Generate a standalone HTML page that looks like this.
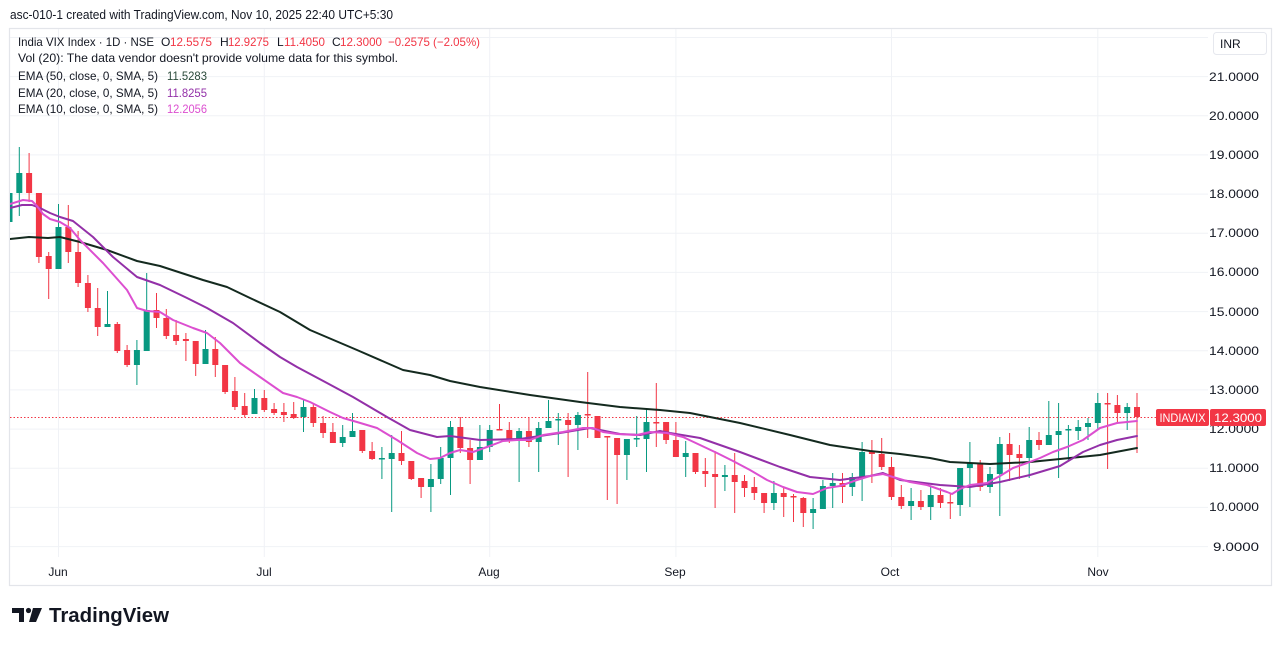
<!DOCTYPE html>
<html><head><meta charset="utf-8"><style>
html,body{margin:0;padding:0;background:#fff;}
svg{display:block;}
text{font-family:"Liberation Sans",Arial,sans-serif;}
</style></head><body>
<svg width="1281" height="646" viewBox="0 0 1281 646" xmlns="http://www.w3.org/2000/svg">
<rect x="0" y="0" width="1281" height="646" fill="#fff"/>
<text x="10" y="19" font-size="13" fill="#131722" textLength="383" lengthAdjust="spacingAndGlyphs">asc-010-1 created with TradingView.com, Nov 10, 2025 22:40 UTC+5:30</text>
<rect x="9.5" y="28.5" width="1262" height="557" fill="none" stroke="#e3e5ea" stroke-width="1.2"/>
<defs><clipPath id="pc"><rect x="10" y="29" width="1198" height="528"/></clipPath></defs>
<!-- grid -->
<g stroke="#f0f2f6" stroke-width="1">
<path d="M10 37.5H1208M10 76.6H1208M10 115.8H1208M10 154.9H1208M10 194.1H1208M10 233.3H1208M10 272.4H1208M10 311.6H1208M10 350.8H1208M10 389.9H1208M10 429.1H1208M10 468.3H1208M10 507.4H1208M10 546.6H1208"/>
<path d="M58.5 29V557M264.3 29V557M489.7 29V557M675.9 29V557M891.5 29V557M1097.8 29V557"/>
</g>
<!-- price line -->
<path d="M10 417.5H1156" stroke="#f23645" stroke-width="1" stroke-dasharray="1.5 2"/>
<g clip-path="url(#pc)">
<path stroke="#089981" stroke-width="1" fill="none" d="M9.5 190V225 M19.3 147V216 M58.5 204V269 M107.5 291V327 M136.9 340V385 M146.7 273V351 M205.5 330V364 M254.5 389V414 M303.5 400V432 M342.7 425V447 M352.5 413V437 M381.9 447V479 M391.7 435V512 M430.9 464V512 M440.7 447V484 M450.5 421V495 M479.9 425V460 M489.7 425V452 M519.1 428V482 M538.7 422V472 M548.5 400V428 M558.3 413V445 M577.9 412V450 M626.9 439V480 M636.7 416V447 M646.5 408V472 M685.7 441V477 M724.9 465V491 M773.9 481V510 M813.1 498V529 M822.9 480V509 M832.7 473V508 M852.3 473V496 M862.1 442V501 M911.1 488V520 M930.7 487V520 M960.1 468V516 M969.9 442V507 M990 467V493 M999.8 437V516 M1029.2 427V478 M1048.8 401V445 M1058.6 403V478 M1068.4 425V460 M1078.2 420V440 M1088 418V440 M1097.8 393V430 M1127.2 403V430"/>
<path stroke="#f23645" stroke-width="1" fill="none" d="M29.1 153V202 M38.9 193V263 M48.7 252V299 M68.3 205V263 M78.1 231V287 M87.9 275V312 M97.7 288V336 M117.3 322V353 M127.1 345V367 M156.5 293V328 M166.3 309V339 M176.1 320V345 M185.9 333V361 M195.7 341V376 M215.3 337V377 M225.1 365V394 M234.9 377V410 M244.7 393V417 M264.3 390V412 M274.1 403V415 M283.9 403V422 M293.7 402V419 M313.3 403V427 M323.1 416V438 M332.9 423V443 M362.3 430V453 M372.1 442V460 M401.5 431V465 M411.3 461V480 M421.1 478V498 M460.3 417V453 M470.1 440V484 M499.5 404V430 M509.3 422V443 M528.9 417V447 M568.1 413V477 M587.7 372V438 M597.5 416V438 M607.3 436V500 M617.1 438V504 M656.3 383V447 M666.1 422V444 M675.9 422V457 M695.5 453V474 M705.3 458V487 M715.1 451V508 M734.7 453V513 M744.5 475V497 M754.3 477V500 M764.1 493V513 M783.7 488V517 M793.5 494V522 M803.3 497V527 M842.5 473V503 M871.9 440V483 M881.7 438V470 M891.5 457V500 M901.3 485V509 M920.9 490V510 M940.5 488V508 M950.3 493V519 M980.2 460V491 M1009.6 433V481 M1019.4 445V479 M1039 432V450 M1107.6 393V469 M1117.4 395V423 M1137 393V453"/>
<g fill="#089981">
<rect x="6.5" y="193" width="6" height="29"/><rect x="16.3" y="173" width="6" height="20"/><rect x="55.5" y="227" width="6" height="42"/><rect x="104.5" y="324" width="6" height="3"/><rect x="133.9" y="350" width="6" height="15"/><rect x="143.7" y="310" width="6" height="41"/><rect x="202.5" y="349" width="6" height="15"/><rect x="251.5" y="398" width="6" height="16"/><rect x="300.5" y="407" width="6" height="10"/><rect x="339.7" y="437" width="6" height="6"/><rect x="349.5" y="431" width="6" height="6"/><rect x="378.9" y="458" width="6" height="1.5"/><rect x="388.7" y="453" width="6" height="6"/><rect x="427.9" y="479" width="6" height="8"/><rect x="437.7" y="458" width="6" height="21"/><rect x="447.5" y="427" width="6" height="31"/><rect x="476.9" y="447" width="6" height="13"/><rect x="486.7" y="430" width="6" height="17"/><rect x="516.1" y="431" width="6" height="10"/><rect x="535.7" y="428" width="6" height="14"/><rect x="545.5" y="421" width="6" height="7"/><rect x="555.3" y="419" width="6" height="1.5"/><rect x="574.9" y="415" width="6" height="10"/><rect x="623.9" y="439" width="6" height="16"/><rect x="633.7" y="438" width="6" height="1.5"/><rect x="643.5" y="422" width="6" height="17"/><rect x="682.7" y="453" width="6" height="4"/><rect x="721.9" y="475" width="6" height="2"/><rect x="770.9" y="493" width="6" height="10"/><rect x="810.1" y="509" width="6" height="4"/><rect x="819.9" y="486" width="6" height="23"/><rect x="829.7" y="483" width="6" height="3"/><rect x="849.3" y="477" width="6" height="10"/><rect x="859.1" y="452" width="6" height="25"/><rect x="908.1" y="501" width="6" height="5"/><rect x="927.7" y="495" width="6" height="12"/><rect x="957.1" y="468" width="6" height="37"/><rect x="966.9" y="463" width="6" height="5"/><rect x="987" y="474" width="6" height="13"/><rect x="996.8" y="444" width="6" height="30"/><rect x="1026.2" y="440" width="6" height="18"/><rect x="1045.8" y="435" width="6" height="10"/><rect x="1055.6" y="431" width="6" height="4"/><rect x="1065.4" y="429" width="6" height="1.5"/><rect x="1075.2" y="427" width="6" height="4"/><rect x="1085" y="423" width="6" height="4"/><rect x="1094.8" y="403" width="6" height="20"/><rect x="1124.2" y="407" width="6" height="6"/>
</g>
<g fill="#f23645">
<rect x="26.1" y="173" width="6" height="20"/><rect x="35.9" y="193" width="6" height="64"/><rect x="45.7" y="256" width="6" height="13"/><rect x="65.3" y="227" width="6" height="25"/><rect x="75.1" y="252" width="6" height="31"/><rect x="84.9" y="283" width="6" height="25"/><rect x="94.7" y="308" width="6" height="19"/><rect x="114.3" y="324" width="6" height="27"/><rect x="124.1" y="350" width="6" height="15"/><rect x="153.5" y="310" width="6" height="8"/><rect x="163.3" y="318" width="6" height="18"/><rect x="173.1" y="335" width="6" height="6"/><rect x="182.9" y="339" width="6" height="2"/><rect x="192.7" y="341" width="6" height="23"/><rect x="212.3" y="349" width="6" height="16"/><rect x="222.1" y="365" width="6" height="27"/><rect x="231.9" y="391" width="6" height="16"/><rect x="241.7" y="406" width="6" height="9"/><rect x="261.3" y="398" width="6" height="12"/><rect x="271.1" y="409" width="6" height="4"/><rect x="280.9" y="412" width="6" height="3"/><rect x="290.7" y="414" width="6" height="4"/><rect x="310.3" y="407" width="6" height="16"/><rect x="320.1" y="423" width="6" height="10"/><rect x="329.9" y="432" width="6" height="11"/><rect x="359.3" y="430" width="6" height="21"/><rect x="369.1" y="451" width="6" height="8"/><rect x="398.5" y="453" width="6" height="8"/><rect x="408.3" y="461" width="6" height="18"/><rect x="418.1" y="478" width="6" height="9"/><rect x="457.3" y="427" width="6" height="21"/><rect x="467.1" y="448" width="6" height="12"/><rect x="496.5" y="429" width="6" height="1.5"/><rect x="506.3" y="430" width="6" height="11"/><rect x="525.9" y="431" width="6" height="11"/><rect x="565.1" y="420" width="6" height="5"/><rect x="584.7" y="414" width="6" height="1.5"/><rect x="594.5" y="416" width="6" height="22"/><rect x="604.3" y="436" width="6" height="1.5"/><rect x="614.1" y="438" width="6" height="17"/><rect x="653.3" y="422" width="6" height="1.5"/><rect x="663.1" y="422" width="6" height="18"/><rect x="672.9" y="440" width="6" height="17"/><rect x="692.5" y="453" width="6" height="19"/><rect x="702.3" y="471" width="6" height="3"/><rect x="712.1" y="474" width="6" height="3"/><rect x="731.7" y="475" width="6" height="7"/><rect x="741.5" y="481" width="6" height="7"/><rect x="751.3" y="487" width="6" height="6"/><rect x="761.1" y="493" width="6" height="10"/><rect x="780.7" y="493" width="6" height="4"/><rect x="790.5" y="496" width="6" height="1.5"/><rect x="800.3" y="498" width="6" height="15"/><rect x="839.5" y="483" width="6" height="4"/><rect x="868.9" y="452" width="6" height="2"/><rect x="878.7" y="454" width="6" height="13"/><rect x="888.5" y="467" width="6" height="30"/><rect x="898.3" y="497" width="6" height="9"/><rect x="917.9" y="501" width="6" height="6"/><rect x="937.5" y="495" width="6" height="8"/><rect x="947.3" y="502" width="6" height="1.5"/><rect x="977.2" y="463" width="6" height="24"/><rect x="1006.6" y="444" width="6" height="11"/><rect x="1016.4" y="454" width="6" height="4"/><rect x="1036" y="440" width="6" height="5"/><rect x="1104.6" y="403" width="6" height="1.5"/><rect x="1114.4" y="405" width="6" height="8"/><rect x="1134" y="407" width="6" height="10"/>
</g>
<!-- EMAs -->
<g fill="none" stroke-width="2" stroke-linejoin="round" stroke-linecap="round">
<path stroke="#142a1f" d="M10 239 L29 237 L48 238 L60 237 L80 242 L107 250 L137 261 L160 266 L203 280 L227 287 L250 298 L280 312 L310 330 L357 350 L403 370 L430 375 L450 381 L480 387 L530 395 L580 402 L620 407 L660 410 L690 413 L740 423 L790 435 L830 445 L870 451 L900 454 L930 458 L950 462 L990 464 L1030 462 L1060 459 L1100 455 L1137 448"/>
<path stroke="#9330a8" d="M10 208 L22 205 L32 205 L40 208 L50 213 L60 217 L73 221 L93 237 L113 257 L137 277 L160 285 L187 298 L207 308 L233 323 L260 343 L280 357 L297 367 L327 383 L353 397 L387 417 L410 430 L437 437 L450 436 L480 440 L520 439 L560 433 L590 428 L600 430 L620 434 L640 435 L660 431 L670 433 L700 438 L740 452 L780 467 L810 477 L840 480 L870 476 L883 473 L900 480 L940 485 L970 487 L1000 482 L1030 475 L1060 466 L1083 452 L1100 445 L1117 440 L1137 436"/>
<path stroke="#dc4fd0" d="M10 204 L23 200 L32 201 L37 206 L43 214 L50 219 L60 222 L70 228 L80 240 L103 263 L127 290 L137 308 L147 311 L160 312 L173 320 L193 328 L207 333 L220 343 L240 363 L260 377 L283 393 L297 397 L310 402 L330 412 L343 418 L357 422 L377 428 L397 440 L417 453 L430 459 L440 458 L450 453 L460 450 L473 452 L487 447 L503 441 L517 440 L530 440 L543 435 L563 432 L583 428 L593 428 L603 432 L617 434 L637 435 L650 432 L667 433 L683 437 L700 445 L717 453 L733 461 L750 470 L767 480 L783 487 L797 492 L813 494 L827 488 L840 486 L857 480 L870 476 L883 474 L893 477 L910 482 L927 485 L947 492 L952 494 L960 489 L970 485 L987 483 L1000 476 L1013 468 L1027 463 L1040 458 L1053 452 L1067 447 L1083 440 L1100 428 L1117 423 L1137 421"/>
</g>
</g>
<!-- legend -->
<g font-size="12" fill="#131722">
<text x="18" y="46" textLength="136" lengthAdjust="spacingAndGlyphs">India VIX Index · 1D · NSE</text>
<text x="161" y="46">O</text><text x="170" y="46" fill="#f23645" textLength="42" lengthAdjust="spacingAndGlyphs">12.5575</text>
<text x="220" y="46">H</text><text x="228" y="46" fill="#f23645" textLength="41" lengthAdjust="spacingAndGlyphs">12.9275</text>
<text x="277" y="46">L</text><text x="284" y="46" fill="#f23645" textLength="41" lengthAdjust="spacingAndGlyphs">11.4050</text>
<text x="332" y="46">C</text><text x="340" y="46" fill="#f23645" textLength="42" lengthAdjust="spacingAndGlyphs">12.3000</text>
<text x="388" y="46" fill="#f23645" textLength="92" lengthAdjust="spacingAndGlyphs">−0.2575 (−2.05%)</text>
<text x="18" y="62" textLength="380" lengthAdjust="spacingAndGlyphs">Vol (20): The data vendor doesn't provide volume data for this symbol.</text>
<text x="18" y="80" textLength="140" lengthAdjust="spacingAndGlyphs">EMA (50, close, 0, SMA, 5)</text><text x="167" y="80" fill="#2a4a3a" textLength="40" lengthAdjust="spacingAndGlyphs">11.5283</text>
<text x="18" y="97" textLength="140" lengthAdjust="spacingAndGlyphs">EMA (20, close, 0, SMA, 5)</text><text x="167" y="97" fill="#9330a8" textLength="40" lengthAdjust="spacingAndGlyphs">11.8255</text>
<text x="18" y="113" textLength="140" lengthAdjust="spacingAndGlyphs">EMA (10, close, 0, SMA, 5)</text><text x="167" y="113" fill="#dc4fd0" textLength="40" lengthAdjust="spacingAndGlyphs">12.2056</text>
</g>
<!-- price axis -->
<rect x="1213.5" y="32.5" width="53" height="22" rx="3" fill="#fff" stroke="#e6e8ee"/>
<text x="1220" y="48" font-size="12" fill="#131722">INR</text>
<g font-size="12" fill="#131722">
<text x="1209" y="81" textLength="50" lengthAdjust="spacingAndGlyphs">21.0000</text>
<text x="1209" y="120" textLength="50" lengthAdjust="spacingAndGlyphs">20.0000</text>
<text x="1209" y="159" textLength="50" lengthAdjust="spacingAndGlyphs">19.0000</text>
<text x="1209" y="198" textLength="50" lengthAdjust="spacingAndGlyphs">18.0000</text>
<text x="1209" y="237" textLength="50" lengthAdjust="spacingAndGlyphs">17.0000</text>
<text x="1209" y="276" textLength="50" lengthAdjust="spacingAndGlyphs">16.0000</text>
<text x="1209" y="316" textLength="50" lengthAdjust="spacingAndGlyphs">15.0000</text>
<text x="1209" y="355" textLength="50" lengthAdjust="spacingAndGlyphs">14.0000</text>
<text x="1209" y="394" textLength="50" lengthAdjust="spacingAndGlyphs">13.0000</text>
<text x="1209" y="433" textLength="50" lengthAdjust="spacingAndGlyphs">12.0000</text>
<text x="1209" y="472" textLength="50" lengthAdjust="spacingAndGlyphs">11.0000</text>
<text x="1209" y="511" textLength="50" lengthAdjust="spacingAndGlyphs">10.0000</text>
<text x="1213" y="551" textLength="46" lengthAdjust="spacingAndGlyphs">9.0000</text>
</g>
<rect x="1156" y="409" width="53" height="17" rx="2" fill="#f23645"/>
<rect x="1210" y="409" width="56" height="17" rx="2" fill="#f23645"/>
<text x="1182.5" y="422" font-size="12" fill="#fff" text-anchor="middle" textLength="46" lengthAdjust="spacingAndGlyphs">INDIAVIX</text>
<text x="1238" y="422" font-size="12" fill="#fff" text-anchor="middle" textLength="48" lengthAdjust="spacingAndGlyphs">12.3000</text>
<!-- time axis -->
<g font-size="12" fill="#131722" text-anchor="middle">
<text x="58" y="576">Jun</text>
<text x="264" y="576">Jul</text>
<text x="489" y="576">Aug</text>
<text x="675" y="576">Sep</text>
<text x="890" y="576">Oct</text>
<text x="1098" y="576">Nov</text>
</g>
<!-- logo -->
<g fill="#131722">
<path d="M12 608H24V622H19V613H12Z"/>
<circle cx="28.5" cy="610.5" r="2.6"/>
<path d="M33 608H42L36 622H29Z"/>
</g>
<text x="49" y="622" font-size="20" font-weight="bold" fill="#131722" textLength="120" lengthAdjust="spacingAndGlyphs">TradingView</text>
</svg>
</body></html>
